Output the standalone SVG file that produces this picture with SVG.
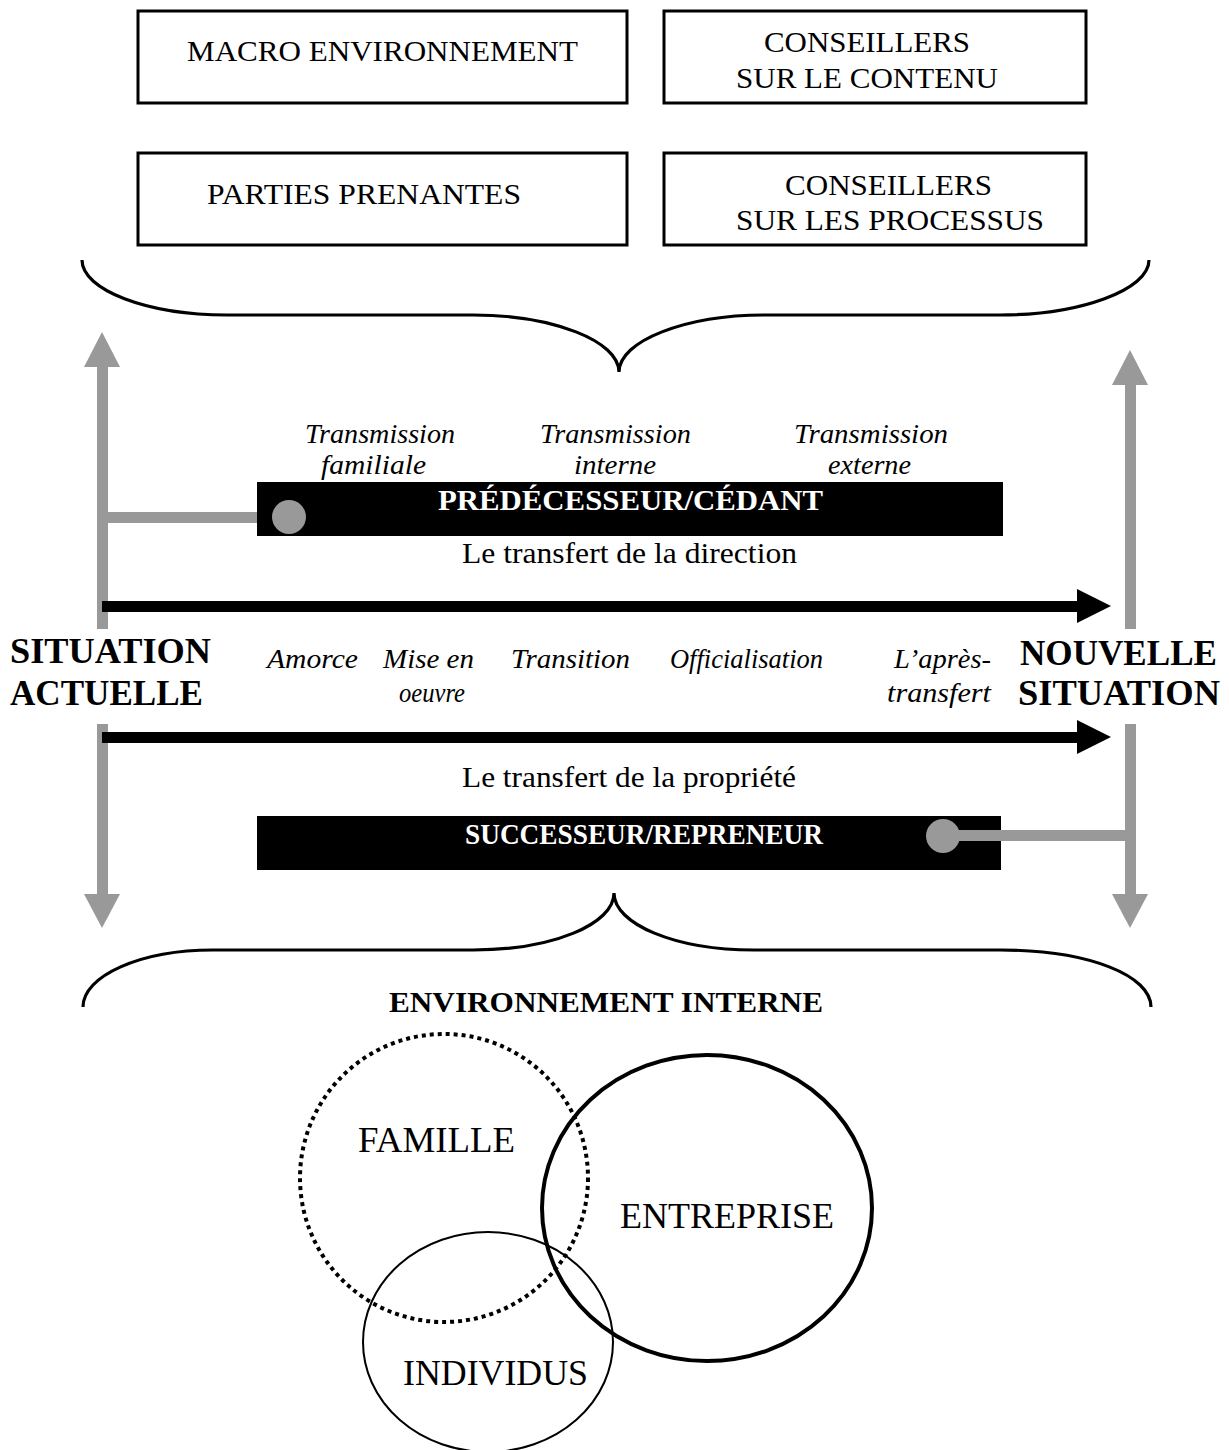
<svg xmlns="http://www.w3.org/2000/svg" width="1229" height="1450" viewBox="0 0 1229 1450">
<style>
.t{font-family:"Liberation Serif","Times New Roman",serif;fill:#000}
.r{font-size:30px}
.i{font-size:28px;font-style:italic}
.m{font-size:30px}
.b{font-weight:bold;font-size:30px}
.w{fill:#fff}
.big{font-size:36px;font-weight:bold}
.c{font-size:36px}
.box{fill:#fff;stroke:#000;stroke-width:3}
.brace{fill:none;stroke:#000;stroke-width:3.2}
.gray{fill:#999}
.blk{fill:#000}
</style>
<rect width="1229" height="1450" fill="#fff"/>

<g id="macro-environnement">
<rect class="box" x="138" y="11" width="489" height="92"/>
<text class="t r" x="187" y="61" textLength="391" lengthAdjust="spacingAndGlyphs">MACRO ENVIRONNEMENT</text>
</g>
<g id="conseillers-contenu">
<rect class="box" x="664" y="11" width="422" height="92"/>
<text class="t r" x="764" y="52" textLength="206" lengthAdjust="spacingAndGlyphs">CONSEILLERS</text>
<text class="t r" x="736" y="88" textLength="262" lengthAdjust="spacingAndGlyphs">SUR LE CONTENU</text>
</g>
<g id="parties-prenantes">
<rect class="box" x="138" y="153" width="489" height="92"/>
<text class="t r" x="207" y="204" textLength="314" lengthAdjust="spacingAndGlyphs">PARTIES PRENANTES</text>
</g>
<g id="conseillers-processus">
<rect class="box" x="664" y="153" width="422" height="92"/>
<text class="t r" x="785" y="195" textLength="207" lengthAdjust="spacingAndGlyphs">CONSEILLERS</text>
<text class="t r" x="736" y="230" textLength="308" lengthAdjust="spacingAndGlyphs">SUR LES PROCESSUS</text>
</g>

<g id="connectors">
<path class="brace" d="M82 260 C82 290 147 315 227 315 L473 315 C553 315 619 341 619 372 C619 341 685 315 765 315 L1000 315 C1080 315 1149 290 1149 260"/>
<path class="brace" d="M83 1007 C83 976 140 950 213 950 L473 950 C553 950 614 924 614 893 C614 924 675 950 754 950 L1000 950 C1090 950 1151 976 1151 1007"/>
<polygon class="gray" points="102,332 120,367 84,367"/>
<rect class="gray" x="97" y="366" width="11" height="263"/>
<rect class="gray" x="97" y="724" width="11" height="171"/>
<polygon class="gray" points="84,894 120,894 102,928"/>
<rect class="gray" x="102" y="512" width="187" height="11"/>
<polygon class="gray" points="1130,350 1148,385 1112,385"/>
<rect class="gray" x="1125" y="384" width="11" height="245"/>
<rect class="gray" x="1125" y="724" width="11" height="171"/>
<polygon class="gray" points="1112,894 1148,894 1130,928"/>
<rect class="blk" x="102" y="601" width="976" height="11"/>
<polygon class="blk" points="1077,589 1111,606 1077,623"/>
<rect class="blk" x="102" y="732" width="976" height="11"/>
<polygon class="blk" points="1077,720 1111,737 1077,754"/>
</g>

<g id="predecesseur">
<rect class="blk" x="257" y="482" width="746" height="54"/>
<text class="t b w" x="438" y="510" textLength="385" lengthAdjust="spacingAndGlyphs">PRÉDÉCESSEUR/CÉDANT</text>
<circle class="gray" cx="289" cy="517" r="17"/>
</g>
<g id="successeur">
<rect class="blk" x="257" y="816" width="744" height="54"/>
<text class="t b w" x="465" y="844" textLength="358" lengthAdjust="spacingAndGlyphs">SUCCESSEUR/REPRENEUR</text>
<circle class="gray" cx="943" cy="836" r="17"/>
<rect class="gray" x="943" y="830" width="187" height="11"/>
</g>

<g id="transmissions">
<text class="t i" x="305" y="443" textLength="150" lengthAdjust="spacingAndGlyphs">Transmission</text>
<text class="t i" x="321" y="474" textLength="105" lengthAdjust="spacingAndGlyphs">familiale</text>
<text class="t i" x="540" y="443" textLength="151" lengthAdjust="spacingAndGlyphs">Transmission</text>
<text class="t i" x="574" y="474" textLength="82" lengthAdjust="spacingAndGlyphs">interne</text>
<text class="t i" x="794" y="443" textLength="154" lengthAdjust="spacingAndGlyphs">Transmission</text>
<text class="t i" x="828" y="474" textLength="83" lengthAdjust="spacingAndGlyphs">externe</text>
</g>

<g id="transferts">
<text class="t m" x="462" y="563" textLength="335" lengthAdjust="spacingAndGlyphs">Le transfert de la direction</text>
<text class="t m" x="462" y="787" textLength="334" lengthAdjust="spacingAndGlyphs">Le transfert de la propriété</text>
</g>

<g id="etapes">
<text class="t i" x="267" y="668" textLength="91" lengthAdjust="spacingAndGlyphs">Amorce</text>
<text class="t i" x="383" y="668" textLength="91" lengthAdjust="spacingAndGlyphs">Mise en</text>
<text class="t i" x="399" y="702" textLength="66" lengthAdjust="spacingAndGlyphs">oeuvre</text>
<text class="t i" x="511" y="668" textLength="119" lengthAdjust="spacingAndGlyphs">Transition</text>
<text class="t i" x="670" y="668" textLength="153" lengthAdjust="spacingAndGlyphs">Officialisation</text>
<text class="t i" x="894" y="668" textLength="97" lengthAdjust="spacingAndGlyphs">L’après-</text>
<text class="t i" x="887" y="702" textLength="104" lengthAdjust="spacingAndGlyphs">transfert</text>
</g>

<g id="situation-actuelle">
<text class="t big" x="10" y="663" textLength="201" lengthAdjust="spacingAndGlyphs">SITUATION</text>
<text class="t big" x="10" y="705" textLength="193" lengthAdjust="spacingAndGlyphs">ACTUELLE</text>
</g>
<g id="nouvelle-situation">
<text class="t big" x="1020" y="665" textLength="197" lengthAdjust="spacingAndGlyphs">NOUVELLE</text>
<text class="t big" x="1018" y="705" textLength="202" lengthAdjust="spacingAndGlyphs">SITUATION</text>
</g>

<g id="environnement-interne">
<text class="t b" x="389" y="1012" textLength="434" lengthAdjust="spacingAndGlyphs">ENVIRONNEMENT INTERNE</text>
</g>

<g id="famille">
<circle cx="444" cy="1178" r="144" fill="none" stroke="#000" stroke-width="4" stroke-dasharray="4 4"/>
<text class="t c" x="358" y="1152" textLength="157" lengthAdjust="spacingAndGlyphs">FAMILLE</text>
</g>
<g id="entreprise">
<ellipse cx="707" cy="1208" rx="165" ry="153" fill="none" stroke="#000" stroke-width="4"/>
<text class="t c" x="620" y="1228" textLength="214" lengthAdjust="spacingAndGlyphs">ENTREPRISE</text>
</g>
<g id="individus">
<ellipse cx="488" cy="1342" rx="125" ry="110" fill="none" stroke="#000" stroke-width="2"/>
<text class="t c" x="403" y="1385" textLength="185" lengthAdjust="spacingAndGlyphs">INDIVIDUS</text>
</g>
</svg>
